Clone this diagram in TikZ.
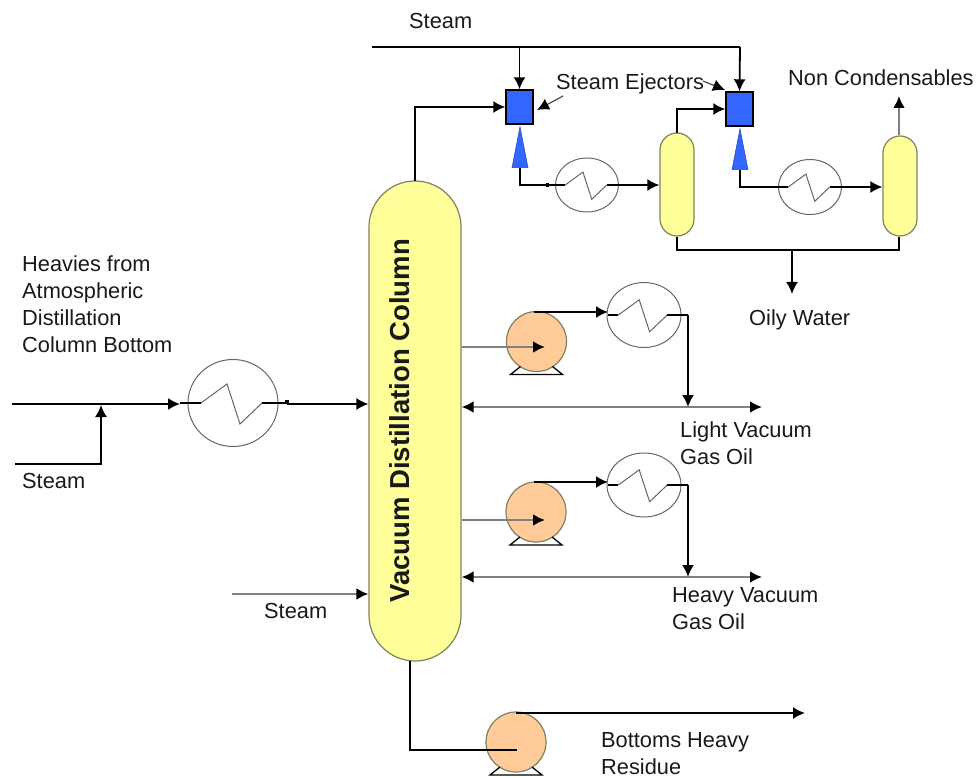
\documentclass[tikz,border=0pt]{standalone}
\usepackage{fontspec}
\setmainfont{Liberation Sans}
\usetikzlibrary{shapes.geometric, arrows.meta}

\definecolor{vesselyellow}{HTML}{FFFF99}
\definecolor{pumporange}{HTML}{FFCC99}
\definecolor{ejectorblue}{HTML}{3366FF}
\definecolor{edgegray}{HTML}{808060}

% zigzag inside an exchanger: #1 node name, #2 scale
\newcommand{\hxzig}[2]{
    \begin{scope}[shift={(#1.center)}, scale=#2]
        \coordinate (#1in) at (-32,0);
        \coordinate (#1out) at (29,0);
        \draw[zig] (#1in) -- (-6,-19) -- (7,21) -- (#1out);
    \end{scope}
}
% pump stand below a pump node
\newcommand{\pumpbase}[1]{
    \begin{scope}[shift={(#1.center)}]
        \draw[stand] (-16,25) -- (-26,33) -- (26,33) -- (16,25);
    \end{scope}
}

\begin{document}
\begin{tikzpicture}[
    x=1pt, y=-1pt,
    vessel/.style={rectangle, draw=edgegray, fill=vesselyellow, line width=1.2pt, inner sep=0pt},
    column/.style={vessel, rounded corners=46pt, minimum width=92pt, minimum height=480pt},
    drum/.style={vessel, rounded corners=17pt, minimum width=34pt},
    ejector/.style={rectangle, draw=black, fill=ejectorblue, line width=1.4pt, minimum width=27pt, minimum height=34pt, inner sep=0pt},
    diffuser/.style={isosceles triangle, isosceles triangle stretches, shape border rotate=90, fill=ejectorblue, draw=ejectorblue!70!black, line width=.5pt, minimum width=16pt, minimum height=41pt, inner sep=0pt, anchor=apex},
    hx/.style={ellipse, draw=black!60, line width=1pt, fill=white, inner sep=0pt},
    pump/.style={circle, draw=edgegray, fill=pumporange, line width=1.2pt, minimum size=60pt, inner sep=0pt},
    zig/.style={draw=black!60, line width=1pt},
    stand/.style={draw=black, line width=1.3pt},
    pipe/.style={draw=black, line width=1.8pt},
    grayline/.style={draw=black!50, line width=2.6pt},
    tick/.style={draw=black, line width=4pt},
    arrow/.style={-{Latex[length=12pt,width=12pt,color=black]}},
    backarrow/.style={{Latex[length=12pt,width=12pt,color=black]}-{Latex[length=12pt,width=12pt,color=black]}},
    tag/.style={font=\fontsize{21.8}{27}\selectfont, text=black!90, align=left, anchor=west, inner sep=0pt}
]
    \useasboundingbox (0,0) rectangle (978,778);

    % free ends
    \coordinate (feed) at (12,404);
    \coordinate (steamleft) at (15,464);
    \coordinate (steamjoin) at (101,405);
    \coordinate (steamlow) at (232,594);
    \coordinate (header) at (372,47);
    \coordinate (headerend) at (740,47);
    \coordinate (noncond) at (899,96);
    \coordinate (oily) at (792,294);
    \coordinate (oilyjoin) at (792,250);
    \coordinate (lightend) at (762,407);
    \coordinate (heavyend) at (762,577);
    \coordinate (bottomend) at (805,713);

    % vessels
    \node[column] (col) at (415,421) {};
    \node[font=\fontsize{27.5}{27.5}\selectfont\bfseries, rotate=90, text=black!90, inner sep=0pt] (coltext) at (400,421) {Vacuum Distillation Column};
    \node[drum, minimum height=103pt] (drumA) at (677,184.5) {};
    \node[drum, minimum height=100pt] (drumB) at (900,186) {};

    % ejectors
    \node[ejector] (ejA) at (519.5,107) {};
    \node[ejector] (ejB) at (739.5,109) {};
    \node[diffuser] (difA) at (520,126) {};
    \node[diffuser] (difB) at (740,128) {};

    % exchangers
    \node[hx, minimum width=90pt, minimum height=87pt] (hxfeed) at (233,403) {};
    \node[hx, minimum width=63pt, minimum height=54pt] (hxtopA) at (587,185) {};
    \node[hx, minimum width=63pt, minimum height=55pt] (hxtopB) at (810,187) {};
    \node[hx, minimum width=74pt, minimum height=65pt] (hxlight) at (644,315) {};
    \node[hx, minimum width=74pt, minimum height=64pt] (hxheavy) at (644,485) {};
    \hxzig{hxfeed}{1}
    \hxzig{hxtopA}{.68}
    \hxzig{hxtopB}{.68}
    \hxzig{hxlight}{.8}
    \hxzig{hxheavy}{.8}

    % pumps
    \node[pump] (pumpA) at (536.5,341.5) {};
    \pumpbase{pumpA}
    \node[pump] (pumpB) at (536,512) {};
    \pumpbase{pumpB}
    \node[pump] (pumpC) at (516,742) {};
    \pumpbase{pumpC}

    % feed side
    \draw[pipe, arrow] (feed) -- (180,404);
    \draw[pipe] (180,403) -- (hxfeedin);
    \draw[pipe] (hxfeedout) -- (287,403) -- (287,404);
    \draw[tick] (285,402) -- (289,402);
    \draw[pipe, arrow] (287,404) -- (col.west |- 0,404);
    \draw[pipe, arrow] (steamleft) -| (steamjoin);
    \draw[grayline, arrow] (steamlow) -- (col.west |- steamlow);

    % overhead
    \draw[pipe] (header) -- (headerend);
    \draw[pipe, arrow] (ejA.north |- header) -- (ejA.north);
    \draw[pipe, arrow] (headerend) -- (ejB.north);
    \draw[pipe, arrow] (415,181) |- (ejA.west);
    \draw[pipe, arrow] (677,133) |- (ejB.west);
    \draw[pipe] (difA.south) |- (hxtopAin);
    \draw[pipe] (difB.south) |- (hxtopBin);
    \draw[tick] (546,185) -- (549,185);
    \draw[pipe, arrow] (hxtopAout) -- (drumA.west |- hxtopAout);
    \draw[pipe, arrow] (hxtopBout) -- (drumB.west |- hxtopBout);
    \draw[grayline, arrow] (drumB.north -| noncond) -- (noncond);
    \draw[pipe] (drumA.south) -- (677,250) -| (drumB.south -| noncond);
    \draw[pipe, arrow] (oilyjoin) -- (oily);

    % light cut
    \draw[grayline, arrow] (col.east |- 0,347) -- (545,347);
    \draw[pipe, arrow] (534,312) -- (608,312);
    \draw[pipe] (608,315) -- (hxlightin);
    \draw[pipe] (hxlightout) -- (688,315);
    \draw[pipe, arrow] (688,315) -- (688,407);
    \draw[grayline, backarrow] (col.east |- lightend) -- (lightend);

    % heavy cut
    \draw[grayline, arrow] (col.east |- 0,520) -- (545,520);
    \draw[pipe, arrow] (534,482) -- (608,482);
    \draw[pipe] (608,485) -- (hxheavyin);
    \draw[pipe] (hxheavyout) -- (688,485);
    \draw[pipe, arrow] (688,485) -- (688,577);
    \draw[grayline, backarrow] (col.east |- heavyend) -- (heavyend);

    % bottoms
    \draw[pipe] (410,661) |- (517,750);
    \draw[pipe, arrow] (516,713) -- (bottomend);

    % labels
    \node[tag] (lblsteamtop) at (409,21) {Steam};
    \node[tag] (lblejector) at (556,84) {Steam Ejectors};
    \node[tag] (lblnon) at (788,78) {Non Condensables};
    \node[tag] (lblfeed) at (22,304) {Heavies from\\Atmospheric\\Distillation\\Column Bottom};
    \node[tag] (lblsteamleft) at (22,481) {Steam};
    \node[tag] (lblsteamlow) at (264,611) {Steam};
    \node[tag] (lbloily) at (749,320) {Oily Water};
    \node[tag] (lbllight) at (680,443) {Light Vacuum\\Gas Oil};
    \node[tag] (lblheavy) at (672,609) {Heavy Vacuum\\Gas Oil};
    \node[tag] (lblbottom) at (601,754) {Bottoms Heavy\\Residue};

    % pointers from the ejector label
    \draw[draw=black!70, line width=1.2pt, arrow] (563,96) -- (537,110);
    \draw[draw=black!70, line width=1.2pt, arrow] (703,81) -- (725,90);
\end{tikzpicture}
\end{document}
